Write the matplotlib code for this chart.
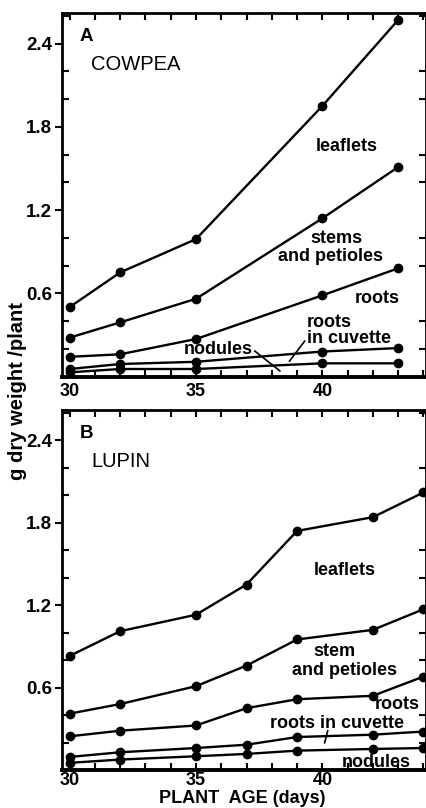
import numpy as np
import matplotlib
matplotlib.use("Agg")
import matplotlib.pyplot as plt
from matplotlib.ticker import MultipleLocator

plt.rcParams['font.family'] = ['Liberation Sans', 'DejaVu Sans']

# cowpea (panel A)
cow_days = [30, 32, 35, 40, 43]
cow_leaflets = [0.50, 0.75, 0.99, 1.95, 2.57]
cow_stems = [0.28, 0.39, 0.56, 1.14, 1.51]
cow_roots = [0.142, 0.16, 0.27, 0.585, 0.78]
cow_cuvette = [0.054, 0.09, 0.106, 0.18, 0.205]
cow_nodules = [0.03, 0.054, 0.054, 0.095, 0.095]

# lupin (panel B)
lup_days = [30, 32, 35, 37, 39, 42, 44]
lup_leaflets = [0.83, 1.01, 1.13, 1.35, 1.74, 1.84, 2.02]
lup_stems = [0.41, 0.48, 0.61, 0.76, 0.95, 1.02, 1.17]
lup_roots = [0.245, 0.286, 0.324, 0.45, 0.515, 0.54, 0.68]
lup_cuvette = [0.095, 0.129, 0.16, 0.184, 0.24, 0.257, 0.28]
lup_nodules = [0.052, 0.076, 0.10, 0.117, 0.141, 0.153, 0.16]

yticks = [0.6, 1.2, 1.8, 2.4]
xticks = [30, 35, 40]

fig = plt.figure(figsize=(4.27, 8.08), dpi=100)
axA = fig.add_axes([62/427, 1-376.5/808, 364/427, 363.5/808])
axB = fig.add_axes([62/427, 1-770/808, 364/427, 360/808])

def style(ax, xpad):
    ax.set_xlim(29.7, 44.1)
    ax.set_ylim(0, 2.62)
    ax.set_xticks(xticks)
    ax.set_yticks(yticks)
    ax.set_yticklabels([f"{v:.1f}" for v in yticks])
    ax.xaxis.set_minor_locator(MultipleLocator(1))
    ax.yaxis.set_minor_locator(MultipleLocator(0.2))
    ax.tick_params(axis='y', which='major', direction='out', length=5, width=1.5,
                   labelsize=13.5, pad=2)
    ax.tick_params(axis='y', which='minor', direction='in', length=5, width=1.5,
                   left=True, right=True)
    ax.tick_params(axis='x', which='both', direction='in', length=5, width=1.5,
                   top=True, labelsize=13, pad=xpad)
    ax.tick_params(axis='y', which='major', right=True)
    for lab in ax.get_xticklabels() + ax.get_yticklabels():
        lab.set_fontweight('bold')
    for s in ax.spines.values():
        s.set_linewidth(2)
    ax.spines['bottom'].set_linewidth(2.8)

def series(ax, x, ys):
    for y in ys:
        ax.plot(x, y, color='black', lw=1.7, marker='o', ms=6, clip_on=False, zorder=3)

series(axA, cow_days, [cow_leaflets, cow_stems, cow_roots, cow_cuvette, cow_nodules])
series(axB, lup_days, [lup_leaflets, lup_stems, lup_roots, lup_cuvette, lup_nodules])
style(axA, 5)
style(axB, 1.5)

lab = dict(fontsize=13, fontweight='bold', va='center')

# panel A text
axA.text(0.066, 0.934, "A", transform=axA.transAxes, fontsize=13.5, fontweight='bold', ha='center', va='center')
axA.text(0.08, 0.857, "COWPEA", transform=axA.transAxes, fontsize=14.5, ha='left', va='center')
axA.text(40.96, 1.66, "leaflets", ha='center', **lab)
axA.text(40.56, 0.995, "stems", ha='center', **lab)
axA.text(40.33, 0.866, "and petioles", ha='center', **lab)
axA.text(42.19, 0.564, "roots", ha='center', **lab)
axA.text(39.39, 0.392, "roots", ha='left', **lab)
axA.text(39.39, 0.277, "in cuvette", ha='left', **lab)
axA.text(35.9, 0.198, "nodules", ha='center', **lab)
axA.plot([37.33, 38.32], [0.183, 0.04], color='black', lw=1.2)
axA.plot([39.3, 38.7], [0.255, 0.111], color='black', lw=1.2)

# panel B text
axB.text(0.066, 0.936, "B", transform=axB.transAxes, fontsize=13.5, fontweight='bold', ha='center', va='center')
axB.text(0.08, 0.856, "LUPIN", transform=axB.transAxes, fontsize=14.5, ha='left', va='center')
axB.text(40.89, 1.45, "leaflets", ha='center', **lab)
axB.text(40.49, 0.863, "stem", ha='center', **lab)
axB.text(40.89, 0.724, "and petioles", ha='center', **lab)
axB.text(42.98, 0.475, "roots", ha='center', **lab)
axB.text(40.57, 0.336, "roots in cuvette", ha='center', **lab)
axB.plot([40.21, 40.09], [0.285, 0.198], color='black', lw=1.2)
axB.text(42.15, 0.058, "nodules", ha='center', **lab)

fig.text(18/427, 1-391/808, "g dry weight /plant", rotation=90, ha='center', va='center',
         fontsize=14.5, fontweight='bold')
fig.text(242/427, 1/808, "PLANT  AGE (days)", ha='center', va='bottom',
         fontsize=13, fontweight='bold')

fig.savefig("out.png", dpi=100)
